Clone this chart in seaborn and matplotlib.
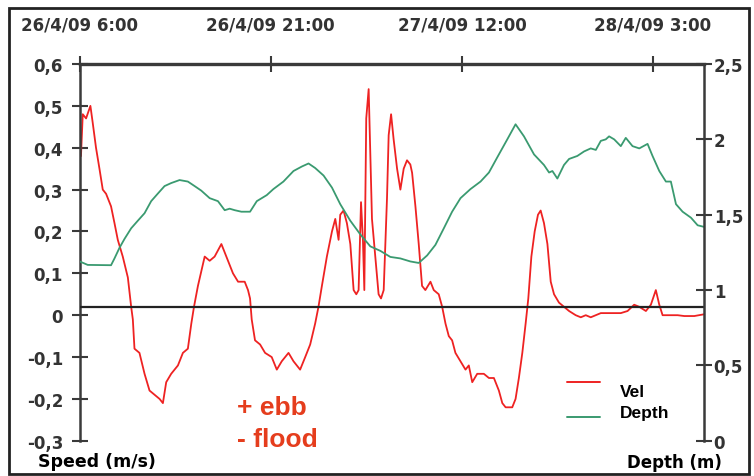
import matplotlib
matplotlib.use("Agg")
import matplotlib.pyplot as plt
import seaborn as sns
import pandas as pd
from matplotlib.lines import Line2D
from matplotlib.patches import Rectangle

# ---------------- data ----------------
# hours since 26/4/09 6:00
vel_hours = [0.10, 0.24, 0.50, 0.84, 1.02, 1.28, 1.55, 1.81, 2.07, 2.46, 2.73, 2.99, 3.38, 3.78,
             4.04, 4.17, 4.30, 4.69, 5.09, 5.48, 5.87, 6.27, 6.53, 6.79, 7.18, 7.71, 8.10, 8.49,
             8.76, 8.97, 9.28, 9.81, 10.20, 10.59, 11.12, 11.51, 12.03, 12.43, 12.95, 13.21,
             13.37, 13.50, 13.76, 14.16, 14.55, 15.07, 15.47, 15.86, 16.39, 16.78, 17.30, 17.70,
             18.09, 18.48, 18.74, 19.01, 19.40, 19.80, 20.06, 20.32, 20.45, 20.71, 20.97, 21.24,
             21.50, 21.71, 21.89, 22.08, 22.23, 22.34, 22.49, 22.68, 22.81, 22.94, 23.20, 23.46,
             23.65, 23.86, 24.12, 24.25, 24.44, 24.64, 24.91, 25.17, 25.43, 25.69, 25.95, 26.09,
             26.35, 26.61, 26.87, 27.13, 27.53, 27.79, 28.18, 28.45, 28.71, 28.97, 29.23, 29.49,
             29.89, 30.28, 30.54, 30.81, 31.20, 31.72, 32.12, 32.51, 32.90, 33.17, 33.43, 33.95,
             34.21, 34.47, 34.74, 35.00, 35.21, 35.45, 35.71, 35.97, 36.18, 36.44, 36.71, 36.97,
             37.23, 37.62, 38.01, 38.41, 38.93, 39.33, 39.72, 40.11, 40.51, 40.90, 41.69, 42.47,
             43.00, 43.52, 43.92, 44.44, 44.83, 45.22, 45.49, 45.75, 46.40, 46.93, 47.45, 48.24,
             48.97]
vel_values = [0.38, 0.48, 0.47, 0.50, 0.46, 0.40, 0.35, 0.30, 0.29, 0.26, 0.22, 0.18, 0.14, 0.09,
              0.02, -0.01, -0.08, -0.09, -0.14, -0.18, -0.19, -0.20, -0.21, -0.16, -0.14, -0.12,
              -0.09, -0.08, -0.02, 0.02, 0.07, 0.14, 0.13, 0.14, 0.17, 0.14, 0.10, 0.08, 0.08, 0.06,
              0.04, -0.01, -0.06, -0.07, -0.09, -0.10, -0.13, -0.11, -0.09, -0.11, -0.13, -0.10,
              -0.07, -0.02, 0.02, 0.07, 0.14, 0.20, 0.23, 0.18, 0.24, 0.25, 0.22, 0.17,
              0.06, 0.05, 0.06, 0.27, 0.18, 0.06, 0.47, 0.54, 0.38, 0.23, 0.14, 0.05,
              0.04, 0.06, 0.28, 0.43, 0.48, 0.42, 0.35, 0.30, 0.35, 0.37, 0.36, 0.34,
              0.26, 0.17, 0.07, 0.06, 0.08, 0.06, 0.05, 0.02, -0.02, -0.05, -0.06, -0.09,
              -0.11, -0.13, -0.12, -0.16, -0.14, -0.14, -0.15, -0.15, -0.18, -0.21, -0.22, -0.22,
              -0.20, -0.15, -0.09, -0.02, 0.04, 0.14, 0.20, 0.24, 0.25, 0.22, 0.17, 0.08,
              0.05, 0.03, 0.02, 0.01, 0.00, -0.005, 0.00, -0.005, 0.00, 0.005, 0.005, 0.005,
              0.01, 0.025, 0.02, 0.01, 0.025, 0.06, 0.025, 0.00, 0.00, 0.00, -0.002, -0.002,
              0.002]

depth_hours = [0.00, 0.63, 2.46, 2.73, 3.12, 3.52, 4.04, 4.56, 5.09, 5.61, 6.13, 6.66, 7.18, 7.84,
               8.49, 9.02, 9.54, 10.20, 10.85, 11.38, 11.77, 12.17, 12.69, 13.37, 13.90, 14.68,
               15.20, 15.99, 16.78, 17.44, 17.96, 18.48, 19.14, 19.80, 20.45, 21.24, 22.02, 22.81,
               23.60, 24.38, 25.17, 25.95, 26.61, 27.27, 27.92, 28.58, 29.23, 29.89, 30.67, 31.46,
               32.12, 32.77, 33.56, 34.21, 34.87, 35.66, 36.44, 36.84, 37.10, 37.49, 38.01, 38.41,
               39.06, 39.59, 40.11, 40.51, 40.90, 41.29, 41.55, 41.95, 42.47, 42.86, 43.39, 43.92,
               44.57, 44.96, 45.49, 46.01, 46.40, 46.80, 47.32, 47.98, 48.50, 48.97]
depth_values = [1.19, 1.167, 1.165, 1.21, 1.28, 1.34, 1.41, 1.46, 1.51, 1.59, 1.64, 1.69, 1.71, 1.73,
                1.72, 1.69, 1.66, 1.61, 1.59, 1.53, 1.54, 1.53, 1.52, 1.52, 1.59, 1.63,
                1.67, 1.72, 1.79, 1.82, 1.84, 1.81, 1.76, 1.68, 1.57, 1.46, 1.37, 1.29,
                1.26, 1.22, 1.21, 1.19, 1.18, 1.23, 1.30, 1.41, 1.52, 1.61, 1.67, 1.72,
                1.78, 1.88, 2.00, 2.10, 2.02, 1.90, 1.83, 1.78, 1.79, 1.74, 1.83, 1.87,
                1.89, 1.92, 1.94, 1.93, 1.99, 2.00, 2.02, 2.00, 1.955, 2.01, 1.955, 1.94,
                1.97, 1.89, 1.79, 1.72, 1.72, 1.57, 1.52, 1.48, 1.43, 1.42]

x_ticks = [0, 15, 30, 45]
x_tick_labels = ["26/4/09 6:00", "26/4/09 21:00", "27/4/09 12:00", "28/4/09 3:00"]
speed_ticks = [-0.3, -0.2, -0.1, 0.0, 0.1, 0.2, 0.3, 0.4, 0.5, 0.6]
speed_tick_labels = ["-0,3", "-0,2", "-0,1", "0", "0,1", "0,2", "0,3", "0,4", "0,5", "0,6"]
depth_ticks = [0, 0.5, 1.0, 1.5, 2.0, 2.5]
depth_tick_labels = ["0", "0,5", "1", "1,5", "2", "2,5"]
ref_line = 0.02

vel_df = pd.DataFrame({"hours": vel_hours, "vel": vel_values})
depth_df = pd.DataFrame({"hours": depth_hours, "depth": depth_values})

# ---------------- style ----------------
sns.set_style("white")
plt.rcParams["font.family"] = ["DejaVu Sans"]

W, H = 754, 477
fig = plt.figure(figsize=(W / 100, H / 100), dpi=100)

def fx(px):
    return px / W

def fy(py):
    return 1 - py / H

ax = fig.add_axes([fx(79.7), fy(441.8), fx(704) - fx(79.7), fy(65) - fy(441.8)])
ax2 = ax.twinx()

RED = "#ee2222"
GREEN = "#3a9a70"
SPINE = "#3a3a3a"
TICKC = "#333333"

sns.lineplot(data=vel_df, x="hours", y="vel", ax=ax, color=RED, lw=1.3, legend=False)
sns.lineplot(data=depth_df, x="hours", y="depth", ax=ax2, color=GREEN, lw=1.3, legend=False)
ax.axhline(ref_line, color="#222222", lw=1.6, zorder=5)

ax.set_xlim(0, 49)
ax.set_ylim(-0.3, 0.6)
ax2.set_ylim(0, 2.5)

ax.set_xlabel("")
ax.set_ylabel("")
ax2.set_ylabel("")

ax.xaxis.tick_top()
ax.set_xticks(x_ticks)
ax.set_xticklabels(x_tick_labels)
ax.set_yticks(speed_ticks)
ax.set_yticklabels(speed_tick_labels)
ax2.set_yticks(depth_ticks)
ax2.set_yticklabels(depth_tick_labels)

for a in (ax, ax2):
    for s in ("left", "right", "top", "bottom"):
        a.spines[s].set_visible(False)
ax.spines["left"].set_visible(True)
ax.spines["top"].set_visible(True)
ax2.spines["right"].set_visible(True)
ax.spines["left"].set_color(SPINE)
ax.spines["left"].set_linewidth(1.8)
ax.spines["top"].set_color(SPINE)
ax.spines["top"].set_linewidth(2.4)
ax2.spines["right"].set_color(SPINE)
ax2.spines["right"].set_linewidth(1.8)

ax.tick_params(axis="x", which="both", top=True, bottom=False, direction="inout", length=12,
               width=1.5, color=SPINE, pad=16, labelsize=12, labelcolor=TICKC)
ax.tick_params(axis="y", direction="inout", length=12, width=1.5, color=SPINE, pad=6,
               labelsize=12, labelcolor=TICKC)
ax2.tick_params(axis="y", direction="inout", length=12, width=1.5, color=SPINE, pad=1,
                labelsize=12, labelcolor=TICKC)
for lab in ax.get_xticklabels() + ax.get_yticklabels() + ax2.get_yticklabels():
    lab.set_fontweight("bold")

ax.patch.set_visible(False)

# axis titles
fig.text(fx(97), fy(462), "Speed (m/s)", ha="center", va="center", fontsize=12.5,
         fontweight="bold", color="black")
fig.text(fx(674), fy(463), "Depth (m)", ha="center", va="center", fontsize=12,
         fontweight="bold", color="black")

# annotations
ANN = "#e53d1d"
fig.text(fx(237), fy(415), "+ ebb", ha="left", va="baseline", fontsize=19,
         fontweight="bold", color=ANN, family="Liberation Sans")
fig.text(fx(237), fy(447), "- flood", ha="left", va="baseline", fontsize=19,
         fontweight="bold", color=ANN, family="Liberation Sans")

# legend (manual)
fig.add_artist(Line2D([fx(567), fx(600)], [fy(383), fy(383)], color=RED, lw=1.4,
                      transform=fig.transFigure))
fig.add_artist(Line2D([fx(567), fx(600)], [fy(418), fy(418)], color=GREEN, lw=1.4,
                      transform=fig.transFigure))
fig.text(fx(620), fy(397), "Vel", ha="left", va="baseline", fontsize=12.5,
         fontweight="bold", color="black", family="Liberation Sans")
fig.text(fx(620), fy(418), "Depth", ha="left", va="baseline", fontsize=12.5,
         fontweight="bold", color="black", family="Liberation Sans")

# outer frame
fig.patches.append(Rectangle((fx(9), fy(475)), fx(749) - fx(9), fy(9) - fy(475),
                             transform=fig.transFigure, fill=False, edgecolor="#222222",
                             lw=2, zorder=10))

fig.savefig("out.png", dpi=100)
